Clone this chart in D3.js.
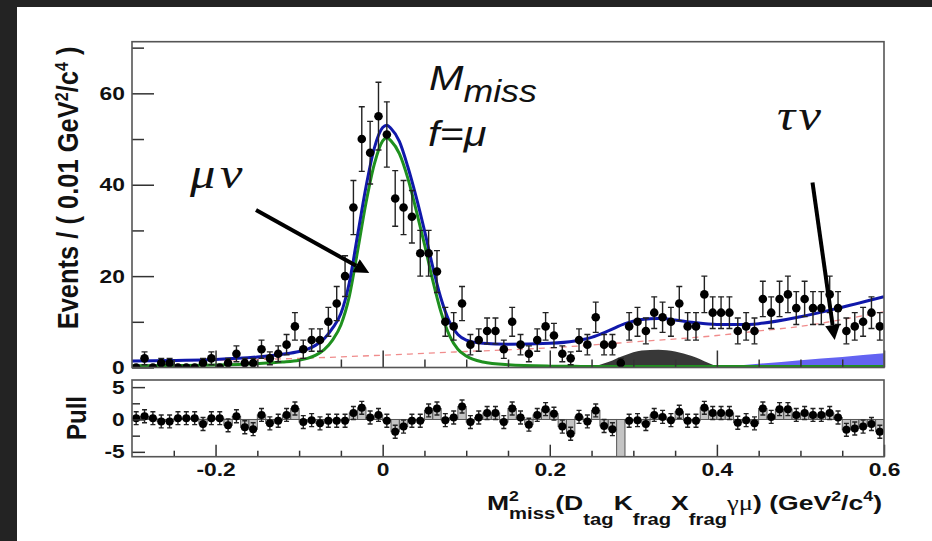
<!DOCTYPE html>
<html>
<head>
<meta charset="utf-8">
<script src="https://cdn.jsdelivr.net/npm/d3@7"></script>
<style>
  html, body { margin: 0; padding: 0; background: #232323; }
  svg { display: block; }
  text { font-family: "Liberation Sans", Arial, sans-serif; fill: #111; }
</style>
</head>
<body>
<div id="chart"></div>
<script>
// canvas + panel geometry
const width = 932, height = 541;
const main = {left: 132, right: 884, top: 41.7, bottom: 367.5};
const pullBox = {top: 380, bottom: 456.7};
const stretch = 1.15;   // the picture is a bit wider than tall

// histogram: 0.01 wide bins from -0.3 to 0.6
const binStart = -0.3;
const binWidth = 0.01;

// events per bin
const counts = [0,2,0,1,1,0,0,0,1,2,0,1,3,1,1,4,2,3,5,9,4,6,6,10,14,20,35,50,47,55,51,37,
                35,33,25,25,21,10,9,14,5,6,8,8,4,10,5,3,6,9,7,3,2,6,5,11,5,5,1,9,10,8,12,
                11,10,14,9,9,16,12,12,12,8,9,8,15,12,15,16,13,15,13,13,16,13,8,9,10,12,9];

// pull per bin
const pulls = [0.2,0.5,0.2,-0.3,-0.3,0.2,0.2,0.2,-0.7,0.2,0.2,-0.9,0.5,-1.2,-1.5,0.7,-0.6,-0.2,0.7,1.7,
               -0.4,-0.1,-0.6,-0.2,-0.2,-0.2,1.0,1.8,0.3,0.7,-0.2,-1.9,-1.1,-0.2,-0.2,1.4,1.7,-0.1,0.3,2.0,
               -0.4,0.3,1.0,1.0,-0.4,1.7,0.3,-0.8,0.7,1.6,0.9,-1.1,-2.2,0.4,-0.3,1.4,-1.0,-1.5,-7,-0.2,
               -0.1,-0.7,0.7,0.4,-0.1,1.2,-0.2,-0.2,1.8,1.0,1.0,1.0,-0.5,-0.1,-0.6,1.7,0.4,1.6,1.6,0.7,
               1.0,0.7,0.7,1.0,0.3,-1.6,-1.4,-1.1,-0.7,-1.9];

// fit curves
const fitX = [-0.3,-0.25,-0.2,-0.15,-0.12,-0.1,-0.09,-0.08,-0.07,-0.06,-0.05,-0.04,-0.03,-0.02,-0.01,0,0.005,0.01,
              0.02,0.03,0.04,0.05,0.06,0.07,0.08,0.09,0.1,0.12,0.15,0.2,0.23,0.25,0.27,0.29,0.31,0.33,0.35,0.37,
              0.4,0.43,0.45,0.5,0.55,0.6];
const totalFit = [1.4,1.55,1.75,2.3,2.9,3.5,4.0,4.9,6.3,8.6,11.8,18.5,29,39.5,48,52.5,53,52.3,
                  49.5,44,37.4,30,22,15,10,7.2,6.0,5.3,5.1,5.3,5.8,6.6,8.0,9.6,10.5,10.7,10.4,9.9,
                  9.4,9.4,9.6,11.1,13.2,15.5];
const signalFit = [0.4,0.45,0.55,0.85,1.2,1.6,2.0,2.7,3.9,6.0,9.3,15.5,25.5,36,44.5,49.6,50.3,49.6,
                   46.8,41.5,34.5,27,19,12,7,4,2.5,1.2,0.6,0.3,0.25,0.2,0.2,0.2,0.2,0.2,0.2,0.2,
                   0.2,0.2,0.2,0.2,0.2,0.2];
const bkgX = [-0.3,-0.2,-0.1,0,0.1,0.2,0.3,0.4,0.45,0.5,0.55,0.6];
const bkgFit = [1.35,1.6,2.0,2.7,3.5,4.3,5.6,7.0,8.0,9.0,10.5,12.2];
const peakX = [0.25,0.27,0.29,0.31,0.33,0.35,0.37,0.39,0.4,0.41];
const peakFit = [0,1.2,2.7,3.7,3.9,3.5,2.5,1.0,0.3,0];
const tauX = [0.4,0.45,0.5,0.55,0.6];
const tauFit = [0,0.8,1.6,2.3,3.1];

// ticks
const xTicks = [-0.2,0,0.2,0.4,0.6];
const xMinor = [-0.25,-0.15,-0.1,-0.05,0.05,0.1,0.15,0.25,0.3,0.35,0.45,0.5,0.55];
const yTicks = [0,20,40,60];
const yMinor = [10,30,50,70];
const pullTicks = [-5,0,5];
const pullMinor = [-2.5,2.5];

const svg = d3.select("#chart").append("svg")
  .attr("width", width)
  .attr("height", height);

svg.append("rect")
  .attr("x", 17).attr("y", 7)
  .attr("width", width - 17).attr("height", height - 7)
  .attr("fill", "#fff");

const x = d3.scaleLinear().domain([-0.3, 0.6]).range([main.left, main.right]);
const y = d3.scaleLinear().domain([0, 71.3]).range([main.bottom, main.top]);
const yp = d3.scaleLinear().domain([-5.75, 6.1]).range([pullBox.bottom, pullBox.top]);

const bins = counts.map((c, i) => ({x0: binStart + i * binWidth, n: c, p: pulls[i]}));
bins.forEach(b => b.xc = b.x0 + binWidth / 2);

const defs = svg.append("defs");
defs.append("clipPath").attr("id", "clipMain").append("rect")
  .attr("x", main.left).attr("y", main.top)
  .attr("width", main.right - main.left).attr("height", main.bottom - main.top);
defs.append("clipPath").attr("id", "clipPull").append("rect")
  .attr("x", main.left).attr("y", pullBox.top)
  .attr("width", main.right - main.left).attr("height", pullBox.bottom - pullBox.top);

/*******************
  Top panel
 *******************/
const topG = svg.append("g").attr("clip-path", "url(#clipMain)");

const fillArea = (xs) => d3.area()
  .x((d, i) => x(xs[i]))
  .y0(y(0))
  .y1(d => y(d))
  .curve(d3.curveMonotoneX);
const fitLine = (xs) => d3.line()
  .x((d, i) => x(xs[i]))
  .y(d => y(d))
  .curve(d3.curveMonotoneX);

// peaking background + tau nu component
topG.append("path").attr("d", fillArea(peakX)(peakFit)).attr("fill", "#383838");
topG.append("path").attr("d", fillArea(tauX)(tauFit)).attr("fill", "#6363f2");

// combinatorial background (dashed)
topG.append("path").attr("d", fitLine(bkgX)(bkgFit))
  .attr("fill", "none").attr("stroke", "#f08c8c")
  .attr("stroke-width", 1.3).attr("stroke-dasharray", "6,5");

// signal + total
topG.append("path").attr("d", fitLine(fitX)(signalFit))
  .attr("fill", "none").attr("stroke", "#1f901f").attr("stroke-width", 3);
topG.append("path").attr("d", fitLine(fitX)(totalFit))
  .attr("fill", "none").attr("stroke", "#1018aa").attr("stroke-width", 3);

// data points with sqrt(N) errors
const pts = topG.selectAll(".pt").data(bins).enter().append("g").attr("class", "pt");
pts.filter(d => d.n > 0).append("line")
  .attr("x1", d => x(d.xc)).attr("x2", d => x(d.xc))
  .attr("y1", d => y(d.n - Math.sqrt(d.n))).attr("y2", d => y(d.n + Math.sqrt(d.n)))
  .attr("stroke", "#222").attr("stroke-width", 1.4);
[d => d.n - Math.sqrt(d.n), d => d.n + Math.sqrt(d.n)].forEach(f => {
  pts.filter(d => d.n > 0).append("line")
    .attr("x1", d => x(d.xc) - 3).attr("x2", d => x(d.xc) + 3)
    .attr("y1", d => y(f(d))).attr("y2", d => y(f(d)))
    .attr("stroke", "#222").attr("stroke-width", 1.4);
});
pts.append("circle")
  .attr("cx", d => x(d.xc)).attr("cy", d => y(d.n))
  .attr("r", 4.3).attr("fill", "#000");

/*******************
  Pull panel
 *******************/
const pg = svg.append("g").attr("clip-path", "url(#clipPull)");
pg.selectAll(".pbar").data(bins).enter().append("rect")
  .attr("class", "pbar")
  .attr("x", d => x(d.x0))
  .attr("width", d => x(d.x0 + binWidth) - x(d.x0))
  .attr("y", d => yp(Math.max(d.p, 0)))
  .attr("height", d => Math.abs(yp(d.p) - yp(0)))
  .attr("fill", "#c4c4c4").attr("stroke", "#555").attr("stroke-width", 1);

const pp = pg.selectAll(".pp").data(bins).enter().append("g").attr("class", "pp");
pp.append("line")
  .attr("x1", d => x(d.xc)).attr("x2", d => x(d.xc))
  .attr("y1", d => yp(d.p - 1)).attr("y2", d => yp(d.p + 1))
  .attr("stroke", "#222").attr("stroke-width", 1.4);
[-1, 1].forEach(s => {
  pp.append("line")
    .attr("x1", d => x(d.xc) - 2.5).attr("x2", d => x(d.xc) + 2.5)
    .attr("y1", d => yp(d.p + s)).attr("y2", d => yp(d.p + s))
    .attr("stroke", "#222").attr("stroke-width", 1.4);
});
pp.append("circle")
  .attr("cx", d => x(d.xc)).attr("cy", d => yp(d.p))
  .attr("r", 4).attr("fill", "#000");

/*******************
  Axes + frames
 *******************/
const styleAxis = (g) => {
  g.select(".domain").remove();
  g.selectAll(".tick line").attr("stroke", "#333").attr("stroke-width", 1.5);
  g.selectAll(".tick text")
    .attr("font-size", 19).attr("font-weight", "bold").attr("fill", "#111")
    .attr("transform", "scale(1.2,1)");
};
const fmt = d => String(d);

svg.append("g").attr("transform", `translate(${main.left},0)`)
  .call(d3.axisLeft(y).tickValues(yTicks).tickSize(-22).tickPadding(6).tickFormat(fmt))
  .call(styleAxis);
svg.append("g").attr("transform", `translate(${main.left},0)`)
  .call(d3.axisLeft(y).tickValues(yMinor).tickSize(-12).tickFormat(""))
  .call(styleAxis);

svg.append("g").attr("transform", `translate(0,${main.bottom})`)
  .call(d3.axisBottom(x).tickValues(xTicks).tickSize(-17).tickFormat(""))
  .call(styleAxis);
svg.append("g").attr("transform", `translate(0,${main.bottom})`)
  .call(d3.axisBottom(x).tickValues(xMinor).tickSize(-8).tickFormat(""))
  .call(styleAxis);

svg.append("g").attr("transform", `translate(${main.left},0)`)
  .call(d3.axisLeft(yp).tickValues(pullTicks).tickSize(-13).tickPadding(6).tickFormat(fmt))
  .call(styleAxis);
svg.append("g").attr("transform", `translate(${main.left},0)`)
  .call(d3.axisLeft(yp).tickValues(pullMinor).tickSize(-8).tickFormat(""))
  .call(styleAxis);

svg.append("g").attr("transform", `translate(0,${pullBox.bottom})`)
  .call(d3.axisBottom(x).tickValues(xTicks).tickSize(-12).tickPadding(6).tickFormat(fmt))
  .call(styleAxis);
svg.append("g").attr("transform", `translate(0,${pullBox.bottom})`)
  .call(d3.axisBottom(x).tickValues(xMinor).tickSize(-6).tickFormat(""))
  .call(styleAxis);

svg.append("rect")
  .attr("x", main.left).attr("y", main.top)
  .attr("width", main.right - main.left).attr("height", main.bottom - main.top)
  .attr("fill", "none").attr("stroke", "#555").attr("stroke-width", 1.6);
svg.append("rect")
  .attr("x", main.left).attr("y", pullBox.top)
  .attr("width", main.right - main.left).attr("height", pullBox.bottom - pullBox.top)
  .attr("fill", "none").attr("stroke", "#555").attr("stroke-width", 1.6);

/*******************
  Titles
 *******************/
const yTitle = svg.append("text")
  .attr("transform", `translate(78,188) scale(${stretch},1) rotate(-90)`)
  .attr("text-anchor", "middle")
  .attr("font-size", 25.5).attr("font-weight", "bold");
yTitle.append("tspan").text("Events / ( 0.01 GeV");
yTitle.append("tspan").attr("dy", -9).attr("font-size", 16).text("2");
yTitle.append("tspan").attr("dy", 9).text("/c");
yTitle.append("tspan").attr("dy", -9).attr("font-size", 16).text("4");
yTitle.append("tspan").attr("dy", 9).text(" )");

svg.append("text")
  .attr("transform", `translate(86,418) scale(${stretch},1) rotate(-90)`)
  .attr("text-anchor", "middle")
  .attr("font-size", 24).attr("font-weight", "bold")
  .text("Pull");

// x title built piece by piece (stacked super/subscripts)
const xTitleParts = [
  {t: "M"}, {sup: "2", sub: "miss"}, {t: "(D"}, {low: "tag"}, {t: "K"}, {low: "frag"},
  {t: "X"}, {low: "frag"}, {t: "γμ", serif: true}, {t: ") (GeV"}, {sup: "2"}, {t: "/c"}, {sup: "4"}, {t: ")"}
];
const xt = svg.append("g");
let cx = 0;
const piece = (str, dy, size, serif) => {
  const el = xt.append("text").attr("x", cx).attr("y", dy)
    .attr("font-size", size).attr("font-weight", serif ? "normal" : "bold")
    .text(str);
  if (serif) el.style("font-family", "'Liberation Serif', serif");
  return el.node().getComputedTextLength();
};
xTitleParts.forEach(p => {
  let w = 0;
  if (p.t) w = piece(p.t, 0, 21, p.serif);
  if (p.sup) w = Math.max(w, piece(p.sup, -9, 14));
  if (p.sub) w = Math.max(w, piece(p.sub, 9, 16));
  if (p.low) w = Math.max(w, piece(p.low, 15, 16));
  cx += w;
});
const xtScale = (882 - 487) / cx;
xt.attr("transform", `translate(487,510) scale(${xtScale},1)`);

/*******************
  Annotations
 *******************/
const ann = svg.append("g").attr("font-style", "italic");
const mm = ann.append("text")
  .attr("transform", `translate(429,90) scale(${stretch},1)`)
  .attr("font-size", 36);
mm.append("tspan").text("M");
mm.append("tspan").attr("dy", 12).attr("font-size", 31).text("miss");
ann.append("text")
  .attr("transform", `translate(428,146) scale(${stretch},1)`)
  .attr("font-size", 36).text("f=μ");

ann.append("text")
  .attr("transform", `translate(190,188) scale(${stretch},1)`)
  .attr("font-size", 44).attr("letter-spacing", 4)
  .style("font-family", "'Liberation Serif', serif")
  .text("μν");
ann.append("text")
  .attr("transform", `translate(777,130) scale(${stretch},1)`)
  .attr("font-size", 44).attr("letter-spacing", 3)
  .style("font-family", "'Liberation Serif', serif")
  .text("τν");

// arrows
defs.append("marker").attr("id", "head")
  .attr("viewBox", "0 0 10 10").attr("refX", 0).attr("refY", 5)
  .attr("markerUnits", "userSpaceOnUse")
  .attr("markerWidth", 17).attr("markerHeight", 15)
  .attr("orient", "auto")
  .append("path").attr("d", "M0,0 L10,5 L0,10 Z").attr("fill", "#000");

const arrow = (x1, y1, x2, y2) => {
  const len = Math.hypot(x2 - x1, y2 - y1);
  const ex = x2 - (x2 - x1) / len * 17, ey = y2 - (y2 - y1) / len * 17;
  svg.append("line")
    .attr("x1", x1).attr("y1", y1).attr("x2", ex).attr("y2", ey)
    .attr("stroke", "#000").attr("stroke-width", 4)
    .attr("marker-end", "url(#head)");
};
arrow(256, 210, 371, 274);
arrow(812.5, 182.5, 835, 342);
</script>
</body>
</html>
